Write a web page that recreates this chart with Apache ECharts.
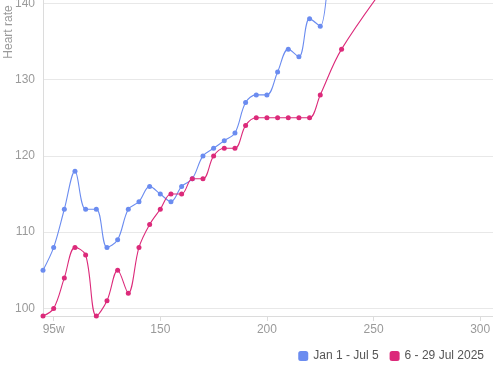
<!DOCTYPE html>
<html>
<head>
<meta charset="utf-8">
<script src="https://cdn.jsdelivr.net/npm/echarts@6/dist/echarts.min.js"></script>
<style>html,body{margin:0;padding:0;background:#fff}#c{width:493px;height:369px}</style>
</head>
<body>
<div id="c"></div>
<script>
var seriesNames = ['Jan 1 - Jul 5', '6 - 29 Jul 2025'];
var blueX = [95,100,105,110,115,120,125,130,135,140,145,150,155,160,165,170,175,180,185,190,195,200,205,210,215,220,225,230];
var blueY = [105,108,113,118,113,113,108,109,113,114,116,115,114,116,117,120,121,122,123,127,128,128,131,134,133,138,137,150];
var redX = [95,100,105,110,115,120,125,130,135,140,145,150,155,160,165,170,175,180,185,190,195,200,205,210,215,220,225,235,260];
var redY = [99,100,104,108,107,99,101,105,102,108,111,113,115,115,117,117,120,121,121,124,125,125,125,125,125,125,128,134,144];
var firstTickLabel = '95w';

function pairs(xs, ys){ return xs.map(function(x,i){ return [x, ys[i]]; }); }

var chart = echarts.init(document.getElementById('c'), null, {renderer:'canvas'});
var gray = '#9a9a9a';
chart.setOption({
  animation: false,
  textStyle: {fontFamily: 'Liberation Sans, Arial, sans-serif'},
  grid: {left: 43, right: 0, top: -252, bottom: 53, containLabel: false, outerBoundsMode: 'none'},
  legend: {
    data: seriesNames,
    right: 4, bottom: 2,
    icon: 'roundRect', itemWidth: 10, itemHeight: 10, itemGap: 11,
    textStyle: {color: '#555', fontSize: 12}
  },
  xAxis: {
    type: 'value', min: 95, max: 306,
    axisLine: {show: true, lineStyle: {color: '#dcdcdc'}},
    axisTick: {show: true, lineStyle: {color: '#dcdcdc'}},
    splitLine: {show: false},
    axisLabel: {color: gray, fontSize: 12, showMinLabel: false, showMaxLabel: false,
      formatter: function(v){ return v === 100 ? firstTickLabel : String(v); }}
  },
  yAxis: {
    type: 'value', min: 99, max: 173.5, splitNumber: 7,
    name: 'Heart rate', nameLocation: 'middle', nameGap: 28, nameMoveOverlap: false,
    nameTextStyle: {color: gray, fontSize: 12},
    axisLine: {show: true, lineStyle: {color: '#dcdcdc'}},
    axisTick: {show: false},
    splitLine: {lineStyle: {color: '#e8e8e8'}},
    axisLabel: {color: gray, fontSize: 12, showMinLabel: false, showMaxLabel: false}
  },
  series: [
    {name: seriesNames[0], type: 'line', smooth: 0.35, data: pairs(blueX, blueY),
     symbol: 'circle', symbolSize: 5, itemStyle: {color: '#6b8cf0'}, lineStyle: {width: 1.1}},
    {name: seriesNames[1], type: 'line', smooth: 0.35, data: pairs(redX, redY),
     symbol: 'circle', symbolSize: 5, itemStyle: {color: '#dc2a7a'}, lineStyle: {width: 1.1}}
  ]
});
</script>
</body>
</html>
